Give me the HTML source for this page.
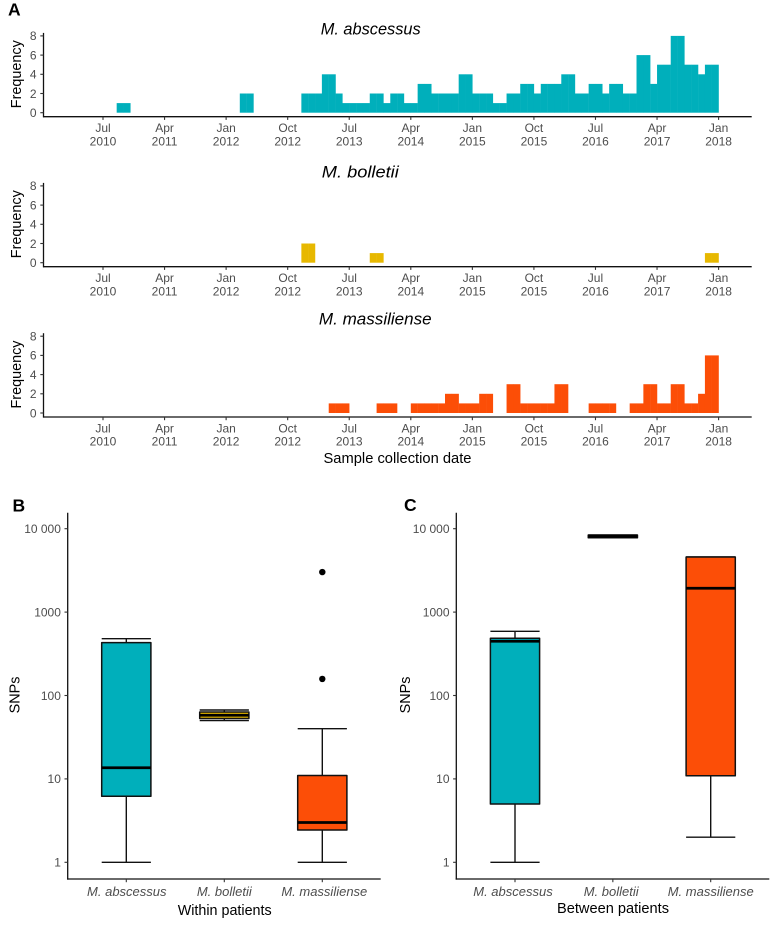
<!DOCTYPE html>
<html lang="en">
<head>
<meta charset="utf-8">
<title>Sample collection histograms and SNP boxplots</title>
<style>
html,body{margin:0;padding:0;background:#fff;width:777px;height:925px;overflow:hidden}
svg{display:block;font-family:"Liberation Sans",sans-serif}
</style>
</head>
<body>
<svg id="figure" width="777" height="925" viewBox="0 0 777 925" xmlns="http://www.w3.org/2000/svg">
  <rect width="777" height="925" fill="#fff"/>
  <text x="8" y="15.7" font-size="17.5" font-weight="bold" fill="#000">A</text>
  <text x="12.5" y="511.7" font-size="17.5" font-weight="bold" fill="#000">B</text>
  <text x="404" y="511" font-size="17.5" font-weight="bold" fill="#000">C</text>
  <text x="397.5" y="463" font-size="14.5" text-anchor="middle" textLength="148" lengthAdjust="spacingAndGlyphs" fill="#000">Sample collection date</text>
  <text x="224.7" y="915" font-size="14.5" text-anchor="middle" textLength="94" lengthAdjust="spacingAndGlyphs" fill="#000">Within patients</text>
  <text x="613" y="913" font-size="14.5" text-anchor="middle" textLength="112" lengthAdjust="spacingAndGlyphs" fill="#000">Between patients</text>
</svg>
<script>
// Histogram data: monthly counts, first bin = Jul 2010, last bin = Dec 2017
var abscessusCounts = [
  0,0,1,1,0,0,0,0,0,0,0,0,0,0,0,0,0,0,0,0,
  2,2,0,0,0,0,0,0,0,2,2,2,4,4,2,1,1,1,1,2,
  2,1,2,2,1,1,3,3,2,2,2,2,4,4,2,2,2,1,1,2,
  2,3,3,2,3,3,3,4,4,2,2,3,3,2,3,3,2,2,6,6,
  3,5,5,8,8,5,5,4,5,5];
var bolletiiCounts = [
  0,0,0,0,0,0,0,0,0,0,0,0,0,0,0,0,0,0,0,0,
  0,0,0,0,0,0,0,0,0,2,2,0,0,0,0,0,0,0,0,1,
  1,0,0,0,0,0,0,0,0,0,0,0,0,0,0,0,0,0,0,0,
  0,0,0,0,0,0,0,0,0,0,0,0,0,0,0,0,0,0,0,0,
  0,0,0,0,0,0,0,0,1,1];
var massilienseCounts = [
  0,0,0,0,0,0,0,0,0,0,0,0,0,0,0,0,0,0,0,0,
  0,0,0,0,0,0,0,0,0,0,0,0,0,1,1,1,0,0,0,0,
  1,1,1,0,0,1,1,1,1,1,2,2,1,1,1,2,2,0,0,3,
  3,1,1,1,1,1,3,3,0,0,0,1,1,1,1,0,0,1,1,3,
  3,1,1,3,3,1,1,2,6,6];
var dateTickMonths = [0,9,18,27,36,45,54,63,72,81,90];
var dateTickMonthLabels = ["Jul","Apr","Jan","Oct","Jul","Apr","Jan","Oct","Jul","Apr","Jan"];
var dateTickYearLabels = ["2010","2011","2012","2012","2013","2014","2015","2015","2016","2017","2018"];
var frequencyTicks = [0,2,4,6,8];

// Boxplot data
var speciesNames = ["M. abscessus","M. bolletii","M. massiliense"];
var snpTicks = [1,10,100,1000,10000];
var snpTickLabels = ["1","10","100","1000","10 000"];
var withinLow = [1,50,1];
var withinQ1 = [6.2,53,2.44];
var withinMedian = [13.6,58,3];
var withinQ3 = [430,63.4,11];
var withinHigh = [480,67,40];
var withinOutliers = [[],[],[158,3020]];
var betweenLow = [1,7800,2];
var betweenQ1 = [5,7800,10.9];
var betweenMedian = [447,8100,1930];
var betweenQ3 = [485,8400,4580];
var betweenHigh = [589,8400,4580];
var betweenOutliers = [[],[],[]];

var NS = 'http://www.w3.org/2000/svg';
var fig = document.getElementById('figure');
var TEAL = '#00AFBB', GOLD = '#E7B800', ORANGE = '#FC4E07';

function mk(tag, props, parent) {
  var el = document.createElementNS(NS, tag);
  for (var k in props) el.setAttribute(k, props[k]);
  (parent || fig).appendChild(el);
  return el;
}
function line(x1, y1, x2, y2, color, width, parent) {
  return mk('line', {x1: x1, y1: y1, x2: x2, y2: y2, stroke: color, 'stroke-width': width}, parent);
}
function label(x, y, str, size, color, anchor, parent) {
  var t = mk('text', {x: x, y: y, 'font-size': size, fill: color, 'text-anchor': anchor}, parent);
  t.textContent = str;
  return t;
}

// ---------- Panel A ----------
function xMonth(m) { return 103 + 6.84 * m; }

function drawHistogram(key, titleText, counts, color, zeroY, titleY, titleWidth, titleX) {
  var unit = 9.6;
  var yCount = function (v) { return zeroY - unit * v; };
  var axisY = zeroY + 4;
  var g = mk('g', {});
  
  

  var title = label(titleX, titleY, titleText, 16.5, '#000', 'middle', g);
  title.setAttribute('font-style', 'italic');
  title.setAttribute('textLength', titleWidth);
  title.setAttribute('lengthAdjust', 'spacingAndGlyphs');
  
  

  counts.forEach(function (v, m) {
    if (v <= 0) return;
    var r = mk('rect', {x: xMonth(m), y: yCount(v), width: xMonth(m + 1) - xMonth(m) + 0.2, height: yCount(0) - yCount(v), fill: color}, g);
    
    
  });

  var yAxis = line(43.5, yCount(8) - 3, 43.5, axisY + 0.6, '#111', 1.3, g);
  
  
  var xAxis = line(43, axisY, 751.7, axisY, '#111', 1.3, g);
  
  

  frequencyTicks.forEach(function (v) {
    var tk = line(40.3, yCount(v), 43.5, yCount(v), '#333', 1.1, g);
    
    
    var tl = label(36.5, yCount(v) + 4.3, String(v), 12, '#4d4d4d', 'end', g);
    
    
  });

  dateTickMonths.forEach(function (m, i) {
    var x = xMonth(m);
    var tk = line(x, axisY, x, axisY + 3.2, '#333', 1.1, g);
    
    
    var t1 = label(x, axisY + 15.5, dateTickMonthLabels[i], 12, '#4d4d4d', 'middle', g);
    
    
    var t2 = label(x, axisY + 28.7, dateTickYearLabels[i], 12, '#4d4d4d', 'middle', g);
    
    
  });

  var cy = zeroY - 38.5;
  var yt = label(0, 0, 'Frequency', 14.4, '#000', 'middle', g);
  yt.setAttribute('transform', 'translate(21 ' + cy + ') rotate(-90)');
  
  
}

drawHistogram('abscessus', 'M. abscessus', abscessusCounts, TEAL, 112.7, 34.3, 100, 370.7);
drawHistogram('bolletii', 'M. bolletii', bolletiiCounts, GOLD, 262.7, 177.3, 77, 360.3);
drawHistogram('massiliense', 'M. massiliense', massilienseCounts, ORANGE, 413, 324.3, 112.7, 375.3);

// ---------- Panels B, C ----------
function ySnp(v) { return 862.3 - 83.4 * Math.log10(v); }
var boxColors = [TEAL, GOLD, ORANGE];

function drawBoxplot(key, cfg, low, q1, med, q3, high, outliers) {
  var half = 24.6;
  var g = mk('g', {});
  
  

  var xCat = function (i) { return cfg.first + cfg.step * i; };

  var ya = line(cfg.left, 512.7, cfg.left, 879.6, '#111', 1.3, g);
  
  
  var xa = line(cfg.left - 0.6, 879, cfg.right, 879, '#111', 1.3, g);
  
  

  snpTicks.forEach(function (v, i) {
    var tk = line(cfg.left - 3.2, ySnp(v), cfg.left, ySnp(v), '#333', 1.1, g);
    
    
    var tl = label(cfg.left - 6.8, ySnp(v) + 4.3, snpTickLabels[i], 12, '#4d4d4d', 'end', g);
    
    
  });

  speciesNames.forEach(function (name, i) {
    var x = xCat(i);
    var tk = line(x, 879, x, 882.2, '#333', 1.1, g);
    
    
    var tl = label(x + cfg.labelShift[i], 896, name, 13, '#4d4d4d', 'middle', g);
    tl.setAttribute('font-style', 'italic');
    
    

    var wl = line(x, ySnp(q1[i]), x, ySnp(low[i]), '#111', 1.4, g);
    
    
    var wh = line(x, ySnp(q3[i]), x, ySnp(high[i]), '#111', 1.4, g);
    
    
    var cl = line(x - half, ySnp(low[i]), x + half, ySnp(low[i]), '#111', 1.4, g);
    
    
    var ch = line(x - half, ySnp(high[i]), x + half, ySnp(high[i]), '#111', 1.4, g);
    
    

    var box = mk('rect', {x: x - half, y: ySnp(q3[i]), width: half * 2, height: ySnp(q1[i]) - ySnp(q3[i]), fill: boxColors[i], stroke: '#111', 'stroke-width': 1.5, 'stroke-linejoin': 'round'}, g);
    
    

    var m = line(x - half, ySnp(med[i]), x + half, ySnp(med[i]), '#000', 2.8, g);
    
    

    outliers[i].forEach(function (v) {
      var c = mk('circle', {cx: x, cy: ySnp(v), r: 3.2, fill: '#000'}, g);
      
      
    });
  });

  var yt = label(0, 0, 'SNPs', 14.4, '#000', 'middle', g);
  yt.setAttribute('transform', 'translate(' + cfg.titleX + ' 695) rotate(-90)');
  
  
}

drawBoxplot('within-patients', {left: 67.7, right: 380.7, first: 126.3, step: 98, labelShift: [0.5, 0, 2], titleX: 19.3},
  withinLow, withinQ1, withinMedian, withinQ3, withinHigh, withinOutliers);
drawBoxplot('between-patients', {left: 456.3, right: 769.3, first: 515, step: 97.85, labelShift: [-2, -1.7, 0], titleX: 410},
  betweenLow, betweenQ1, betweenMedian, betweenQ3, betweenHigh, betweenOutliers);
</script>
</body>
</html>
